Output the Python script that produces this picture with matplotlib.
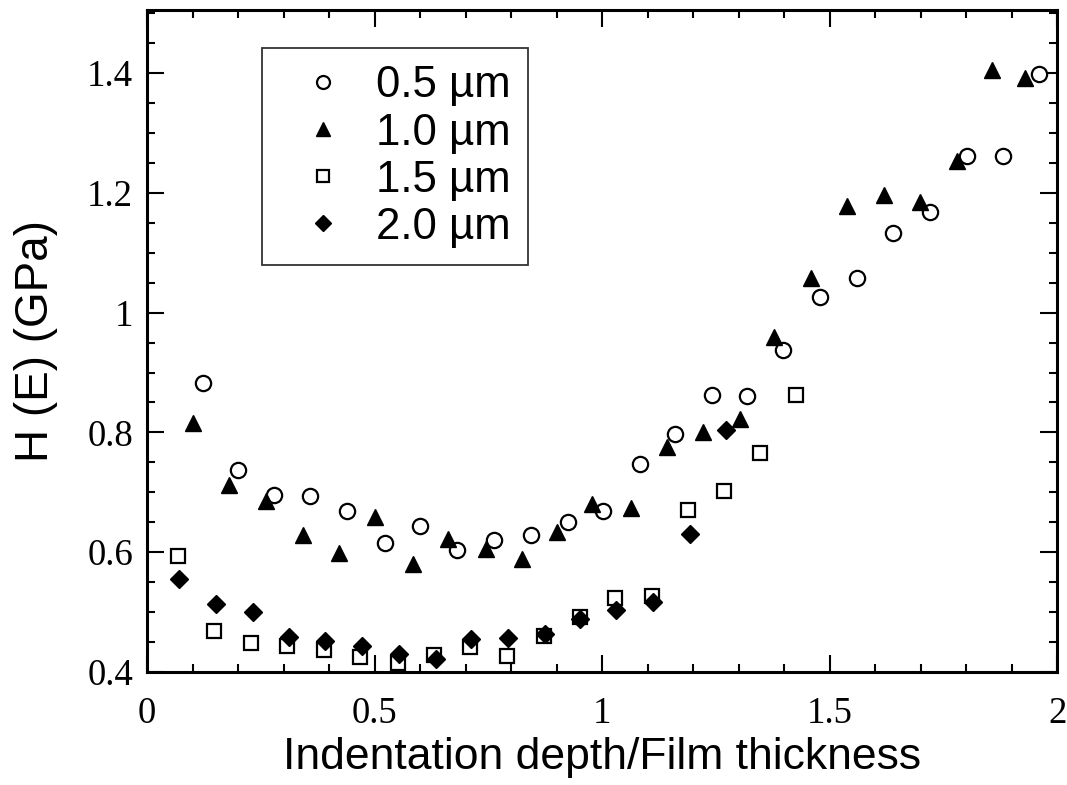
import numpy as np
import matplotlib
matplotlib.use("Agg")
import matplotlib.pyplot as plt
from matplotlib.ticker import MultipleLocator

# values
x_05 = [0.124, 0.200, 0.280, 0.359, 0.439, 0.522, 0.599, 0.682, 0.762, 0.843, 0.925, 1.003,
        1.083, 1.160, 1.241, 1.319, 1.398, 1.479, 1.560, 1.640, 1.721, 1.801, 1.882, 1.961]
h_05 = [0.883, 0.738, 0.695, 0.694, 0.668, 0.615, 0.644, 0.604, 0.620, 0.628, 0.651, 0.669,
        0.748, 0.797, 0.862, 0.861, 0.938, 1.026, 1.058, 1.133, 1.168, 1.262, 1.261, 1.399]

x_10 = [0.100, 0.181, 0.261, 0.342, 0.422, 0.502, 0.584, 0.661, 0.745, 0.823, 0.901, 0.978,
        1.063, 1.142, 1.222, 1.302, 1.378, 1.459, 1.539, 1.620, 1.699, 1.780, 1.857, 1.930]
h_10 = [0.815, 0.713, 0.686, 0.629, 0.599, 0.658, 0.581, 0.622, 0.605, 0.588, 0.634, 0.680,
        0.674, 0.775, 0.800, 0.823, 0.959, 1.058, 1.178, 1.196, 1.185, 1.253, 1.405, 1.392]

x_15 = [0.067, 0.147, 0.229, 0.308, 0.389, 0.469, 0.551, 0.630, 0.709, 0.791, 0.872, 0.951,
        1.028, 1.109, 1.188, 1.268, 1.347, 1.427]
h_15 = [0.594, 0.469, 0.448, 0.444, 0.437, 0.425, 0.415, 0.428, 0.442, 0.426, 0.460, 0.492,
        0.523, 0.527, 0.670, 0.703, 0.766, 0.862]

x_20 = [0.070, 0.151, 0.232, 0.312, 0.392, 0.472, 0.553, 0.634, 0.711, 0.793, 0.874, 0.951,
        1.031, 1.112, 1.193, 1.272]
h_20 = [0.556, 0.513, 0.500, 0.458, 0.451, 0.443, 0.430, 0.421, 0.455, 0.456, 0.463, 0.488,
        0.503, 0.516, 0.630, 0.804]

labels = ["0.5 µm", "1.0 µm", "1.5 µm", "2.0 µm"]

sans = ["Liberation Sans", "DejaVu Sans"]
serif = ["Liberation Serif", "DejaVu Serif"]

fig = plt.figure(figsize=(10.67, 7.85), dpi=100)
ax = fig.add_axes([0.1378, 0.144, 0.853, 0.843])

ax.plot(x_05, h_05, "o", ms=11, mfc="white", mec="black", mew=1.6, ls="none", label=labels[0])
ax.plot(x_10, h_10, "^", ms=11.5, color="black", ls="none", label=labels[1])
ax.plot(x_15, h_15, "s", ms=10, mfc="white", mec="black", mew=1.6, ls="none", label=labels[2])
ax.plot(x_20, h_20, "D", ms=9.2, color="black", ls="none", label=labels[3])

ax.set_xlim(0, 2)
ax.set_ylim(0.4, 1.505)
ax.xaxis.set_minor_locator(MultipleLocator(0.1))
ax.yaxis.set_minor_locator(MultipleLocator(0.05))
ax.set_xticks([0, 0.5, 1, 1.5, 2])
ax.set_xticklabels(["0", "0.5", "1", "1.5", "2"])
ax.set_yticks([0.4, 0.6, 0.8, 1.0, 1.2, 1.4])
ax.set_yticklabels(["0.4", "0.6", "0.8", "1", "1.2", "1.4"])

ax.tick_params(which="both", direction="in", top=True, right=True, width=1.5, colors="black")
ax.tick_params(which="major", length=12)
ax.tick_params(which="minor", length=6)
ax.tick_params(axis="x", which="major", pad=18)
ax.tick_params(axis="y", which="major", pad=10)
for t in ax.get_xticklabels() + ax.get_yticklabels():
    t.set_family(serif)
    t.set_fontsize(26.5)

for s in ax.spines.values():
    s.set_linewidth(2.2)

ax.set_xlabel("Indentation depth/Film thickness", family=sans, fontsize=32, labelpad=4)
ax.set_ylabel("H (E) (GPa)", family=sans, fontsize=33, labelpad=21)

leg = ax.legend(loc="upper left", bbox_to_anchor=(0.126, 0.943), borderaxespad=0,
                prop={"family": sans, "size": 31.5}, frameon=True, fancybox=False,
                edgecolor="black", handlelength=2.0, handletextpad=0.22,
                borderpad=0.4, labelspacing=0.14, markerscale=0.85, numpoints=1)
leg.get_frame().set_linewidth(1.3)

fig.savefig("out.png", dpi=100)
